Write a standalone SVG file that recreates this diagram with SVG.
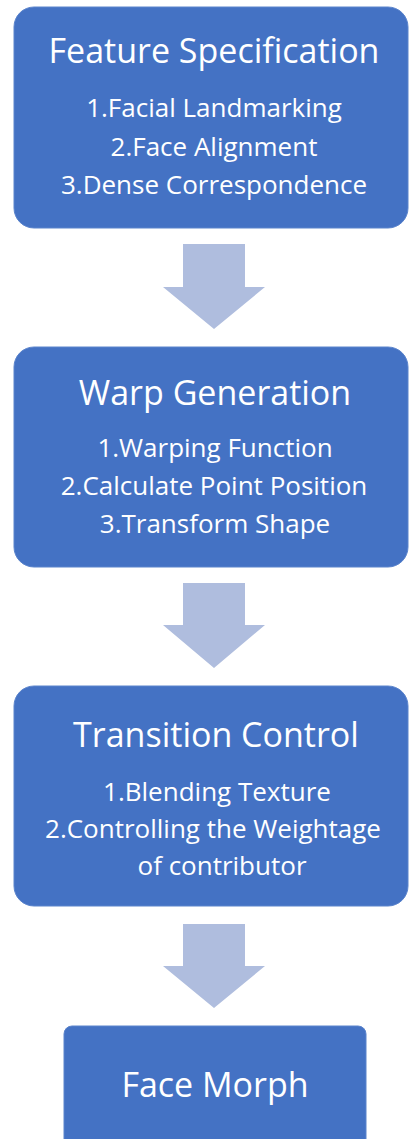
<svg xmlns="http://www.w3.org/2000/svg" width="409" height="1139" viewBox="0 0 409 1139">
<style>
.box{fill:#4472C4;stroke:#5B84CC;stroke-width:1}
.arr{fill:#AFBDDE}
.t{font-family:"Open Sans","Noto Sans",sans-serif;fill:#FFFFFF;text-anchor:middle}
.h{font-size:34px}
.i{font-size:26px}
</style>
<rect width="409" height="1139" fill="#FFFFFF"/>
<g id="connectors">
<polygon class="arr" points="183,244 245,244 245,287 265,287 214,329 163,287 183,287"/>
<polygon class="arr" points="183,583 245,583 245,625 265,625 214,668 163,625 183,625"/>
<polygon class="arr" points="183,924 245,924 245,966 265,966 214,1008 163,966 183,966"/>
</g>
<g id="feature-specification">
<rect class="box" x="14" y="7" width="394" height="221" rx="20"/>
<text class="t h" x="214" y="63">Feature Specification</text>
<text class="t i" x="214" y="117">1.Facial Landmarking</text>
<text class="t i" x="214" y="156">2.Face Alignment</text>
<text class="t i" x="214" y="194">3.Dense Correspondence</text>
</g>
<g id="warp-generation">
<rect class="box" x="14" y="347" width="394" height="220" rx="20"/>
<text class="t h" x="215" y="405">Warp Generation</text>
<text class="t i" x="215" y="457">1.Warping Function</text>
<text class="t i" x="214" y="495">2.Calculate Point Position</text>
<text class="t i" x="215" y="533">3.Transform Shape</text>
</g>
<g id="transition-control">
<rect class="box" x="14" y="686" width="394" height="220" rx="20"/>
<text class="t h" x="216" y="747">Transition Control</text>
<text class="t i" x="217" y="801">1.Blending Texture</text>
<text class="t i" x="213" y="838">2.Controlling the Weightage</text>
<text class="t i" x="222" y="875">of contributor</text>
</g>
<g id="face-morph">
<rect class="box" x="64" y="1026" width="302" height="130" rx="8"/>
<text class="t h" x="215" y="1097">Face Morph</text>
</g>
</svg>
